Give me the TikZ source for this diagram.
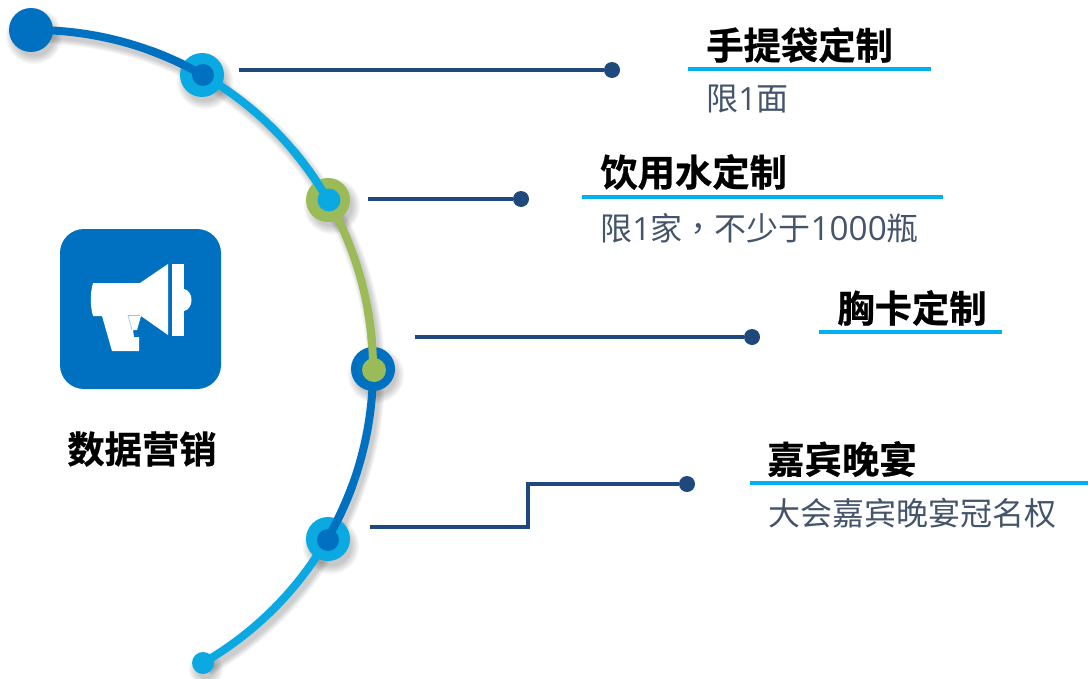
\documentclass[tikz,border=0pt]{standalone}
\usepackage{fontspec}
\setmainfont{Noto Sans CJK SC}
\newfontfamily\heavycjk[FakeBold=0.6]{Noto Sans CJK SC Bold}
\newfontfamily\tccjk{Noto Sans CJK TC}
\newfontfamily\digitfont{Open Sans}
\definecolor{blueA}{HTML}{0070C0}
\definecolor{cyanA}{HTML}{0BA9E2}
\definecolor{ruleA}{HTML}{00B0F0}
\definecolor{greenA}{HTML}{9BBB59}
\definecolor{navyA}{HTML}{1F497D}
\definecolor{slateA}{HTML}{44546A}
\newcommand{\pxu}{0.75pt}
\newcommand{\arcseg}[4]{% colour, from, to, width
  \draw[line width=#4*\pxu,#1] (34,369) ++(#2:339*\pxu) arc[start angle=#2,end angle=#3,radius=339*\pxu];}
\newcommand{\arcshadow}[2]{%
  \foreach \w in {18,16,14,12,10,8}{
    \draw[line width=\w*\pxu,black,opacity=.035] (37,374) ++(#1:339*\pxu) arc[start angle=#1,end angle=#2,radius=339*\pxu];}}
\newcommand{\discshadow}[3]{% x,y,r
  \foreach \d in {6,4.5,3,1.5,0,-1.5}{
    \fill[black,opacity=.04] (#1+3,#2+6) circle[radius={(#3+\d)*\pxu}];}}
\tikzset{
  x=0.75pt,y=-0.75pt,
  leader/.style={draw=navyA,line width=4*\pxu},
  enddot/.style={circle,fill=navyA,inner sep=0pt,minimum size=16*\pxu},
  titletext/.style={font=\heavycjk\fontsize{28pt}{30pt}\selectfont,text=black,inner sep=0pt,anchor=west},
  subtext/.style={font=\fontsize{24pt}{28pt}\selectfont,text=slateA,inner sep=0pt,anchor=west},
  rule/.style={draw=ruleA,line width=4*\pxu},
}
\begin{document}
\begin{tikzpicture}
\useasboundingbox (0,0) rectangle (1088,678);
% shadows of the arc and discs
\arcshadow{90}{-60}
\discshadow{31}{30}{22}
\discshadow{202}{75}{22}
\discshadow{329}{200}{22}
\discshadow{373}{369}{22}
\discshadow{328}{540}{22}
\discshadow{203}{663}{11}
% arc segments
\arcseg{blueA}{89.5}{60}{8}
\arcseg{cyanA}{60}{30}{8}
\arcseg{greenA}{30}{0}{8}
\arcseg{blueA}{0}{-30}{8}
\arcseg{cyanA}{-30}{-60}{8}
% discs (outer, then inner in colour of the arriving segment)
\fill[cyanA] (202,75) circle[radius=22*\pxu];
\fill[blueA] (203,75) circle[radius=11*\pxu];
\arcseg{blueA}{70}{60.5}{8}
\fill[greenA] (328,200) circle[radius=22*\pxu];
\fill[cyanA] (329,200) circle[radius=11.5*\pxu];
\arcseg{cyanA}{40}{31}{8}
\fill[blueA] (373,369) circle[radius=22*\pxu];
\fill[greenA] (374,370) circle[radius=12*\pxu];
\arcseg{greenA}{10}{1}{8}
\fill[cyanA] (328,539) circle[radius=22*\pxu];
\fill[blueA] (328,540) circle[radius=11*\pxu];
\arcseg{blueA}{-20}{-29}{8}
\fill[blueA] (31,30) circle[radius=22*\pxu];
\fill[cyanA] (203,663) circle[radius=11*\pxu];
% icon
\fill[blueA,rounded corners=24*\pxu] (60,229) rectangle (221,389);
\fill[white] (93,283) -- (140,283) -- (168,264) -- (168,335) -- (141,316)
  -- (137,330) -- (133,330) -- (134,337) -- (139,337) -- (139,351) -- (112,351) -- (102,316) -- (93,316)
  .. controls (90,305) and (90,294) .. (93,283) -- cycle;
\draw[blueA!40,line width=.6*\pxu] (140,315.5) -- (128,315.5) -- (132,330);
\fill[white] (172,264) rectangle (184,336);
\fill[white] (184,289) .. controls (194,291) and (194,309) .. (184,311) -- cycle;
\node[font=\heavycjk\fontsize{28pt}{30pt}\selectfont,inner sep=0pt] (label) at (142,449) {数据营销};
% leaders
\coordinate (s1) at (239,70);
\node[enddot] (d1) at (612,70) {};
\draw[leader] (s1) -- (d1);
\coordinate (s2) at (368,199);
\node[enddot] (d2) at (521,199) {};
\draw[leader] (s2) -- (d2);
\coordinate (s3) at (415,337);
\node[enddot] (d3) at (752,337) {};
\draw[leader] (s3) -- (d3);
\coordinate (s4) at (370,527);
\coordinate (b4) at (528,484);
\node[enddot] (d4) at (687,484) {};
\draw[leader] (s4) -| (b4) -- (d4);
% text blocks
\node[titletext] (t1) at (706,45) {手提袋定制};
\coordinate (r1a) at (688,69); \coordinate (r1b) at (931,69);
\draw[rule] (r1a) -- (r1b);
\node[subtext] (u1) at (706,99) {限{\digitfont 1}面};
\node[titletext] (t2) at (600,172) {饮用水定制};
\coordinate (r2a) at (582,197); \coordinate (r2b) at (943,197);
\draw[rule] (r2a) -- (r2b);
\node[subtext] (u2) at (600,228) {限{\digitfont 1}家{\tccjk ，}不少于{\digitfont\fontsize{25pt}{28pt}\selectfont 1000}瓶};
\node[titletext] (t3) at (837,308) {胸卡定制};
\coordinate (r3a) at (819,332); \coordinate (r3b) at (1002,332);
\draw[rule] (r3a) -- (r3b);
\node[titletext] (t4) at (767,459) {嘉宾晚宴};
\coordinate (r4a) at (750,483); \coordinate (r4b) at (1088,483);
\draw[rule] (r4a) -- (r4b);
\node[subtext] (u4) at (768,513) {大会嘉宾晚宴冠名权};
\end{tikzpicture}
\end{document}
